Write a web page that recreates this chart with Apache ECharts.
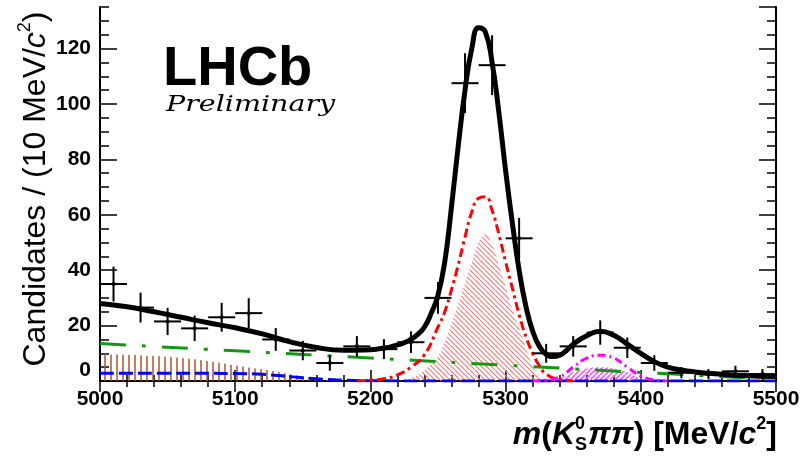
<!DOCTYPE html>
<html lang="en">
<head>
<meta charset="UTF-8">
<title>m(KS pi pi) fit</title>
<script src="https://cdn.jsdelivr.net/npm/echarts@6/dist/echarts.min.js"></script>
<style>
  html, body { margin: 0; padding: 0; background: #fff; }
  #main { width: 812px; height: 458px; }
</style>
</head>
<body>
<div id="main"></div>
<script type="text/javascript">
// data points (bin centres, candidates, errors)
var binCentres = [5010, 5030, 5050, 5070, 5090, 5110, 5130, 5150, 5170, 5190, 5210, 5230, 5250,
                  5270, 5290, 5310, 5330, 5350, 5370, 5390, 5410, 5430, 5450, 5470, 5490];
var candidates = [35, 26.5, 21.5, 19, 23, 24.5, 15, 11, 6.5, 12.5, 11.5, 14, 30,
                  107.5, 114, 51.5, 10, 12.5, 17.5, 12, 6.5, 3, 2.5, 3.5, 2.5];
var errors = [6.3, 5.4, 4.9, 4.6, 5.2, 5.4, 4.1, 3.5, 2.8, 3.7, 3.6, 3.9, 5.7,
              10.8, 10.8, 7.4, 3.4, 3.7, 4.4, 3.7, 2.8, 2.0, 1.8, 2.0, 1.8];

// total fit
var totalMass = [5000, 5020, 5040, 5060, 5080, 5100, 5120, 5140, 5160, 5180,
                 5200, 5205, 5210, 5215, 5220, 5225, 5230, 5235, 5240, 5245,
                 5250, 5255, 5260, 5265, 5270, 5275, 5280, 5285, 5290, 5295,
                 5300, 5305, 5310, 5315, 5320, 5325, 5330, 5335, 5340, 5345, 5350,
                 5360, 5370, 5380, 5390, 5400, 5410, 5420, 5430, 5440, 5450, 5460, 5470, 5480, 5490, 5500];
var totalFit = [28, 26.8, 25, 23, 21, 19.2, 17, 14.2, 12.1, 11.1,
                11.3, 11.5, 11.9, 12.3, 13, 13.8, 15, 16.8, 19.5, 24.5,
                31, 43, 63, 85, 105, 120, 127.5, 126, 115, 97,
                76, 57, 40, 27, 18, 12.5, 9.6, 8.8, 9.3, 11, 13.3,
                16.3, 18, 16.5, 13.3, 10, 7, 5, 4, 3.3, 2.8, 2.4, 2.1, 1.9, 1.7, 1.6];

// B0 signal (red dash-dot) and hatched part
var redMass = [5190, 5200, 5210, 5220, 5230, 5240, 5250, 5255, 5260, 5265, 5270, 5275, 5280,
               5285, 5290, 5295, 5300, 5305, 5310, 5315, 5320, 5325, 5330, 5340, 5350];
var redFit = [0, 0.3, 0.8, 2.2, 5, 9.5, 19.5, 25, 33, 42, 52, 61, 66,
              66.5, 61.6, 53, 43, 33.5, 24, 16, 10, 5.5, 2.5, 0.5, 0];
var hatchMass = [5220, 5230, 5240, 5250, 5255, 5260, 5265, 5270, 5275, 5280, 5285,
                 5290, 5295, 5300, 5305, 5310, 5315, 5320, 5325, 5330, 5340];
var hatchFit = [0, 1, 4, 9, 14, 21, 28, 35.5, 43, 50, 53,
                49, 42, 34, 26, 19, 12, 5.5, 2, 0.5, 0];

// Bs (magenta)
var magMass = [5320, 5330, 5340, 5350, 5360, 5370, 5380, 5390, 5400, 5410, 5420];
var magFit = [0, 0.3, 1.5, 5, 8.3, 9.3, 8.3, 5, 1.8, 0.4, 0];
var magHatchMass = [5330, 5340, 5350, 5360, 5370, 5380, 5390, 5400, 5410];
var magHatchFit = [0, 1, 3.2, 4.5, 5, 4.5, 3.2, 1, 0];

// backgrounds
var greenMass = [5000, 5100, 5200, 5300, 5400, 5500];
var greenFit = [13.5, 10.9, 8.3, 5.7, 3.1, 0.6];
var blueMass = [5000, 5050, 5100, 5120, 5140, 5160, 5180, 5200, 5250, 5500];
var blueFit = [2.8, 2.8, 2.7, 2.4, 1.6, 0.8, 0.3, 0.1, 0, 0];
var brownMass = [5000, 5020, 5040, 5060, 5080, 5100, 5120, 5140, 5160, 5170, 5180];
var brownFit = [9.7, 9.5, 9, 8.3, 7.2, 5.6, 4.2, 2.5, 0.8, 0.2, 0];

function pairs(xs, ys) {
    return xs.map(function (x, i) { return [x, ys[i]]; });
}

// hatch fill patterns
function hatch(color, dir, step, lw) {
    var c = document.createElement('canvas');
    c.width = step; c.height = step;
    var g = c.getContext('2d');
    g.strokeStyle = color; g.lineWidth = lw;
    g.beginPath();
    if (dir === 'v') {
        g.moveTo(step / 2, 0); g.lineTo(step / 2, step);
    } else {
        for (var k = -1; k <= 1; k++) {
            if (dir === '\\') { g.moveTo(k * step, 0); g.lineTo(k * step + step, step); }
            else { g.moveTo(k * step, step); g.lineTo(k * step + step, 0); }
        }
    }
    g.stroke();
    return { image: c, repeat: 'repeat' };
}

function area(xs, ys, pattern, z) {
    return {
        type: 'line', data: pairs(xs, ys), showSymbol: false, smooth: 0.5, z: z,
        lineStyle: { width: 0 }, areaStyle: { color: pattern, opacity: 1 }
    };
}

function curve(xs, ys, color, width, dash, z) {
    return {
        type: 'line', data: pairs(xs, ys), showSymbol: false, smooth: 0.5, z: z,
        lineStyle: { color: color, width: width, type: dash, cap: 'butt', join: 'round' }
    };
}

// text helpers for axis titles with sub/superscripts
var mctx = document.createElement('canvas').getContext('2d');
function textWidth(t, font) { mctx.font = font; return mctx.measureText(t).width; }

function pieces(list) {
    var x = 0, out = [];
    list.forEach(function (p) {
        out.push({
            type: 'text', x: x, y: p.dy || 0,
            style: { text: p.t, font: p.font, fill: '#000', verticalAlign: 'middle', align: 'left' }
        });
        if (!p.noAdvance) x += p.w || textWidth(p.t, p.font);
    });
    return { children: out, width: x };
}

var FF = '"Liberation Sans", Arial, sans-serif';
var xb = 'bold 32px ' + FF, xbi = 'italic bold 32px ' + FF, xs = 'bold 18px ' + FF;
var xTitle = pieces([
    { t: 'm', font: xbi },
    { t: '(', font: xb },
    { t: 'K', font: xbi },
    { t: '0', font: xs, dy: -11, noAdvance: true },
    { t: 'S', font: xs, dy: 10, w: textWidth('S', xs) + 1 },
    { t: '\u03c0\u03c0', font: xbi },
    { t: ') [MeV/', font: xb },
    { t: 'c', font: xbi },
    { t: '2', font: xs, dy: -11 },
    { t: ']', font: xb }
]);

var yr = '32px ' + FF, yi = 'italic 32px ' + FF, ys = '18px ' + FF;
var yTitle = pieces([
    { t: 'Candidates / (10 MeV/', font: yr },
    { t: 'c', font: yi },
    { t: '2', font: ys, dy: -11 },
    { t: ')', font: yr }
]);

var myChart = echarts.init(document.getElementById('main'));

var labelStyle = { fontSize: 21, fontWeight: 'bold', color: '#000', fontFamily: FF };
var xAxisBase = {
    type: 'value', min: 5000, max: 5500, interval: 100,
    axisLine: { lineStyle: { color: '#000', width: 2 } },
    axisTick: { inside: true, length: 11, lineStyle: { color: '#000', width: 1.5 } },
    minorTick: { show: true, splitNumber: 5, length: 6, lineStyle: { color: '#000', width: 1.5 } },
    splitLine: { show: false }
};
function yAxisDef(pos, interval, len, labels) {
    return {
        type: 'value', min: 0, max: 135, interval: interval, position: pos, offset: 0,
        axisLine: { show: interval === 20, onZero: false, lineStyle: { color: '#000', width: 2 } },
        axisTick: { inside: true, length: len, lineStyle: { color: '#000', width: 1.5 } },
        axisLabel: labels ? Object.assign({
            show: true, margin: 9, showMaxLabel: false, verticalAlignMinLabel: 'bottom'
        }, labelStyle) : { show: false },
        splitLine: { show: false }
    };
}

var option = {
    animation: false,
    backgroundColor: '#fff',
    grid: { left: 100, right: 36, top: 7, bottom: 77 },
    xAxis: [
        Object.assign({}, xAxisBase, {
            position: 'bottom',
            axisLabel: Object.assign({ margin: 8, formatter: function (v) { return String(v); } }, labelStyle)
        }),
        Object.assign({}, xAxisBase, { position: 'top', axisLabel: { show: false } })
    ],
    yAxis: [
        yAxisDef('left', 20, 17, true),
        yAxisDef('left', 5, 9, false),
        yAxisDef('right', 20, 17, false),
        yAxisDef('right', 5, 9, false)
    ],
    series: [
        area(brownMass, brownFit, hatch('#b4502a', 'v', 6, 1.5), 1),
        area(hatchMass, hatchFit, hatch('#ff7878', '\\', 5, 1.2), 1),
        area(magHatchMass, magHatchFit, hatch('#ff55ff', '/', 5, 1.6), 1),
        curve(blueMass, blueFit, '#0000ff', 3, [14, 5], 3),
        curve(greenMass, greenFit, '#119911', 3, [26, 16, 4, 16], 3),
        curve(redMass, redFit, '#ff0000', 3, [9, 4, 3, 4], 4),
        curve(magMass, magFit, '#ff00ff', 3, [8, 4, 2, 4], 4),
        curve(totalMass, totalFit, '#000', 5, 'solid', 5),
        {
            type: 'custom', z: 6,
            data: binCentres.map(function (x, i) { return [x, candidates[i], errors[i]]; }),
            encode: { x: 0, y: 1 },
            renderItem: function (params, api) {
                var x = api.value(0), y = api.value(1), e = api.value(2);
                var c = api.coord([x, y]);
                var l = api.coord([x - 10, y]), r = api.coord([x + 10, y]);
                var hi = api.coord([x, y + e]), lo = api.coord([x, y - e]);
                var st = { stroke: '#000', lineWidth: 2 };
                return {
                    type: 'group', children: [
                        { type: 'line', shape: { x1: l[0], y1: c[1], x2: r[0], y2: c[1] }, style: st },
                        { type: 'line', shape: { x1: c[0], y1: hi[1], x2: c[0], y2: lo[1] }, style: st },
                        { type: 'circle', shape: { cx: c[0], cy: c[1], r: 2 }, style: { fill: '#000' } }
                    ]
                };
            }
        }
    ],
    graphic: [
        { type: 'text', left: 163, top: 42, style: { text: 'LHCb', font: 'bold 56px ' + FF, fill: '#000' } },
        { type: 'text', x: 166, y: 94, scaleX: 1.24, style: { text: 'Preliminary', font: 'italic 23px "DejaVu Serif", serif', fill: '#000' } },
        { type: 'group', x: 777 - xTitle.width, y: 435, children: xTitle.children },
        { type: 'group', x: 36, y: 189 + yTitle.width / 2, rotation: Math.PI / 2, children: yTitle.children }
    ]
};
myChart.setOption(option);
</script>
</body>
</html>
